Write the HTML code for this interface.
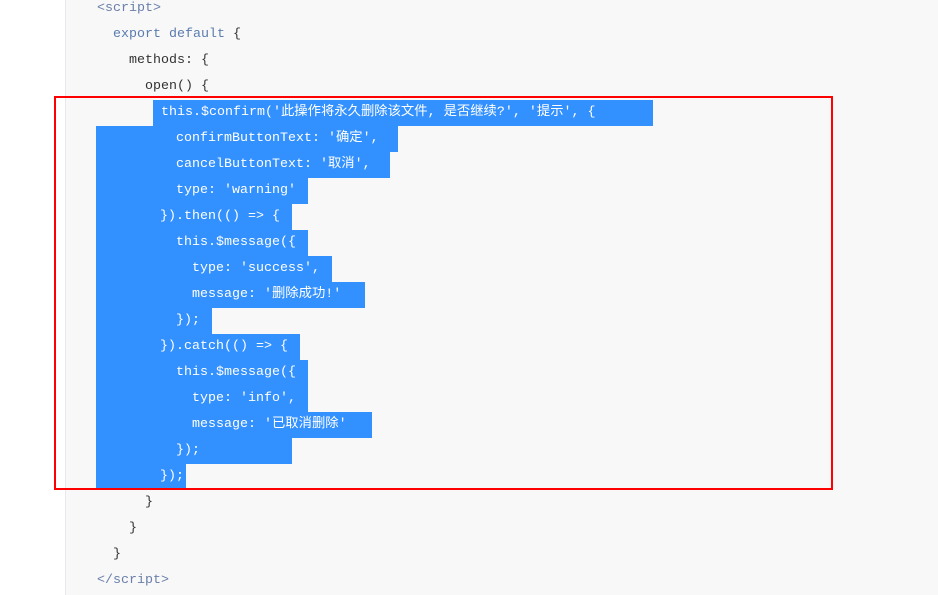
<!DOCTYPE html>
<html><head><meta charset="utf-8"><style>
html,body{margin:0;padding:0;width:938px;height:595px;overflow:hidden;background:#fff}
.panel{position:absolute;left:65px;top:0;width:873px;height:595px;background:#f8f8f9;border-left:1px solid #e8e8ec}
.l{position:absolute;left:97px;height:26px;line-height:26px;white-space:pre;font-family:"Liberation Mono","Noto Sans CJK SC",monospace;font-size:13.33px;color:#333}
.s{background:#3390ff;color:#fff;display:inline-block;height:26px}
.tag{color:#6a7fa8}
.kw{color:#5a7cae}
.box{position:absolute;left:54px;top:96px;width:775px;height:390px;border:2px solid #f00}
</style></head><body>
<div class="panel"></div>
<div class="l" style="top:-4px"><span class="tag">&lt;script&gt;</span></div>
<div class="l" style="top:22px">  <span class="kw">export default</span> {</div>
<div class="l" style="top:48px">    methods: {</div>
<div class="l" style="top:74px">      open() {</div>
<div class="l" style="top:100px">       <span class="s" style="width:500px"> this.$confirm('此操作将永久删除该文件, 是否继续?', '提示', {</span></div>
<div class="l" style="top:126px;left:96px"><span class="s" style="width:302px">          confirmButtonText: '确定',</span></div>
<div class="l" style="top:152px;left:96px"><span class="s" style="width:294px">          cancelButtonText: '取消',</span></div>
<div class="l" style="top:178px;left:96px"><span class="s" style="width:212px">          type: 'warning'</span></div>
<div class="l" style="top:204px;left:96px"><span class="s" style="width:196px">        }).then(() =&gt; {</span></div>
<div class="l" style="top:230px;left:96px"><span class="s" style="width:212px">          this.$message({</span></div>
<div class="l" style="top:256px;left:96px"><span class="s" style="width:236px">            type: 'success',</span></div>
<div class="l" style="top:282px;left:96px"><span class="s" style="width:269px">            message: '删除成功!'</span></div>
<div class="l" style="top:308px;left:96px"><span class="s" style="width:116px">          });</span></div>
<div class="l" style="top:334px;left:96px"><span class="s" style="width:204px">        }).catch(() =&gt; {</span></div>
<div class="l" style="top:360px;left:96px"><span class="s" style="width:212px">          this.$message({</span></div>
<div class="l" style="top:386px;left:96px"><span class="s" style="width:212px">            type: 'info',</span></div>
<div class="l" style="top:412px;left:96px"><span class="s" style="width:276px">            message: '已取消删除'</span></div>
<div class="l" style="top:438px;left:96px"><span class="s" style="width:196px">          });</span></div>
<div class="l" style="top:464px;left:96px"><span class="s" style="width:90px">        });</span></div>
<div class="l" style="top:490px">      }</div>
<div class="l" style="top:516px">    }</div>
<div class="l" style="top:542px">  }</div>
<div class="l" style="top:568px"><span class="tag">&lt;/script&gt;</span></div>
<div class="box"></div>
</body></html>
